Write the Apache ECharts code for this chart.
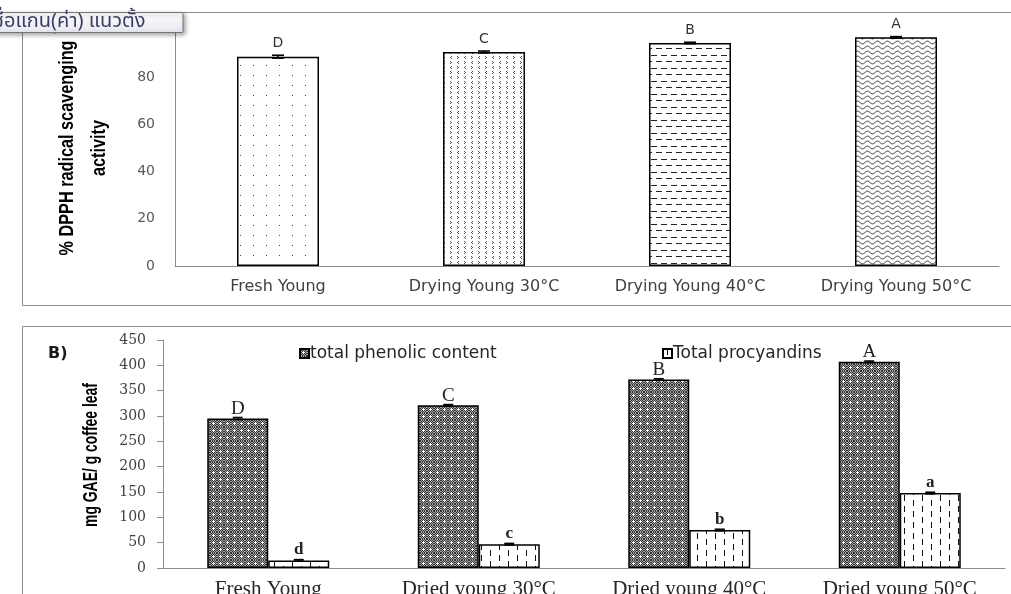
<!DOCTYPE html>
<html>
<head>
<meta charset="utf-8">
<title>Antioxidant activity of young coffee leaves</title>
<script src="https://cdn.jsdelivr.net/npm/echarts@6/dist/echarts.min.js"></script>
<style>
  html, body { margin: 0; padding: 0; background: #fff; }
  #chart { width: 1011px; height: 594px; }
</style>
</head>
<body>
<div id="chart"></div>
<script>
// ---- Panel A: DPPH radical scavenging ----
const dpphCategories = ['Fresh Young', 'Drying Young 30°C', 'Drying Young 40°C', 'Drying Young 50°C'];
const dpphValues = [88.7, 90.7, 94.5, 96.9];
const dpphErrors = [0.6, 0.4, 0.3, 0.3];
const dpphLetters = ['D', 'C', 'B', 'A'];

// ---- Panel B: phenolics and procyanidins ----
const leafCategories = ['Fresh Young', 'Dried young 30°C', 'Dried young 40°C', 'Dried young 50°C'];
const phenolicValues = [295, 321, 372, 407];
const phenolicErrors = [2, 1.5, 1.5, 1.5];
const phenolicLetters = ['D', 'C', 'B', 'A'];
const procyanidinValues = [15, 47, 75, 148];
const procyanidinErrors = [1.5, 1.5, 1.5, 1.5];
const procyanidinLetters = ['d', 'c', 'b', 'a'];

const seriesNames = ['total phenolic content', 'Total procyandins'];

// ---- fill patterns (small canvas tiles) ----
function tile(w, h, draw) {
  const c = document.createElement('canvas');
  c.width = w; c.height = h;
  const ctx = c.getContext('2d');
  ctx.fillStyle = '#fff';
  ctx.fillRect(0, 0, w, h);
  draw(ctx);
  return c;
}
function px(ctx, pts, color) {
  ctx.fillStyle = color;
  pts.forEach(p => ctx.fillRect(p[0], p[1], 1, 1));
}
const dotTile = tile(13, 10, ctx => px(ctx, [[6, 5]], '#444'));
const chevronTile = tile(14, 10, ctx => {
  // > <   on the first row, < >   on the second
  px(ctx, [[2, 1], [3, 2], [2, 3], [10, 1], [9, 2], [10, 3]], '#555');
  px(ctx, [[3, 6], [2, 7], [3, 8], [9, 6], [10, 7], [9, 8]], '#555');
});
const dashTile = tile(10, 13, ctx => {
  ctx.fillStyle = '#222';
  ctx.fillRect(1, 3, 6, 1);
  ctx.fillRect(6, 9, 4, 1);
  ctx.fillRect(0, 9, 2, 1);
});
const waveTile = tile(10, 5, ctx => {
  ctx.strokeStyle = '#333';
  ctx.lineWidth = 1;
  ctx.beginPath();
  for (let x = 0; x <= 10; x += 0.5) {
    const y = 2.5 + 1.4 * Math.sin(2 * Math.PI * x / 10);
    if (x === 0) ctx.moveTo(x, y); else ctx.lineTo(x, y);
  }
  ctx.stroke();
});
const phenolicTile = tile(7, 7, ctx => {
  for (let y = 0; y < 7; y++) {
    for (let x = 0; x < 7; x++) {
      ctx.fillStyle = (x + y) % 2 === 0 ? '#333333' : '#a6a6a6';
      ctx.fillRect(x, y, 1, 1);
    }
  }
  ctx.fillStyle = '#fff';
  ctx.fillRect(2, 3, 3, 1);
  ctx.fillRect(3, 2, 1, 3);
});
const procyanidinTile = tile(18, 11, ctx => {
  ctx.fillStyle = '#111';
  ctx.fillRect(4, 0, 1, 6);
  ctx.fillRect(13, 5, 1, 6);
});
const pat = t => ({ image: t, repeat: 'repeat' });
const dpphPatterns = [dotTile, chevronTile, dashTile, waveTile];

// horizontal squeeze so a title fits a given length
function squeeze(text, font, target) {
  const ctx = document.createElement('canvas').getContext('2d');
  ctx.font = font;
  const w = ctx.measureText(text).width;
  return w > 0 ? target / w : 1;
}

// error bars drawn with the axes' own coordinate mapping
function errorBars(axisIndex, values, errors, offset, capHalf) {
  return {
    type: 'custom',
    xAxisIndex: axisIndex,
    yAxisIndex: axisIndex,
    silent: true,
    z: 5,
    data: values.map((v, i) => [i, v, errors[i]]),
    encode: { x: 0, y: 1 },
    renderItem: (params, api) => {
      const i = api.value(0), v = api.value(1), e = api.value(2);
      const hi = api.coord([i, v + e]);
      const lo = api.coord([i, v - e]);
      const x = hi[0] + offset;
      const st = { stroke: '#000', lineWidth: 1.6 };
      return {
        type: 'group',
        children: [
          { type: 'line', shape: { x1: x, y1: hi[1], x2: x, y2: lo[1] }, style: st },
          { type: 'line', shape: { x1: x - capHalf, y1: hi[1], x2: x + capHalf, y2: hi[1] }, style: st },
          { type: 'line', shape: { x1: x - capHalf, y1: lo[1], x2: x + capHalf, y2: lo[1] }, style: st }
        ]
      };
    }
  };
}

const axisGray = '#8c8c8c';
const sansFont = '"DejaVu Sans", Verdana, sans-serif';
const serifFont = '"Liberation Serif", "Times New Roman", serif';
const boldTitleFont = '"Liberation Sans", Arial, sans-serif';
const BAR_B = 61;

const titleA = '% DPPH radical scavenging\nactivity';
const titleB = 'mg GAE/ g coffee leaf';
const scaleA = squeeze('% DPPH radical scavenging', 'bold 21px "Liberation Sans"', 215);
const scaleB = squeeze(titleB, 'bold 20px "Liberation Sans"', 144);

const chart = echarts.init(document.getElementById('chart'), null, { renderer: 'canvas' });

chart.setOption({
  animation: false,
  backgroundColor: '#ffffff',
  grid: [
    { left: 175, right: 12, top: 30, height: 236, outerBoundsMode: 'none' },
    { left: 163, right: 6, top: 340, height: 228, outerBoundsMode: 'none' }
  ],
  xAxis: [
    {
      gridIndex: 0, type: 'category', data: dpphCategories,
      axisLine: { lineStyle: { color: axisGray, width: 1 } },
      axisTick: { show: false },
      axisLabel: { margin: 13, fontFamily: sansFont, fontSize: 16, color: '#404040' }
    },
    {
      gridIndex: 1, type: 'category', data: leafCategories,
      axisLine: { lineStyle: { color: axisGray, width: 1 } },
      axisTick: { show: false },
      axisLabel: { margin: 11, fontFamily: serifFont, fontSize: 21, color: '#262626' }
    }
  ],
  yAxis: [
    {
      gridIndex: 0, type: 'value', min: 0, max: 100, interval: 20,
      axisLine: { show: true, lineStyle: { color: axisGray, width: 1 } },
      axisTick: { show: false },
      splitLine: { show: false },
      axisLabel: { margin: 20, fontFamily: sansFont, fontSize: 14, color: '#595959', showMaxLabel: false }
    },
    {
      gridIndex: 1, type: 'value', min: 0, max: 450, interval: 50,
      axisLine: { show: true, lineStyle: { color: axisGray, width: 1 } },
      axisTick: { show: true, length: 6, lineStyle: { color: axisGray } },
      splitLine: { show: false },
      axisLabel: { margin: 17, fontFamily: '"DejaVu Serif", serif', fontSize: 14, color: '#404040' }
    }
  ],
  legend: [
    {
      data: [seriesNames[0]], left: 294, top: 340, itemWidth: 9, itemHeight: 9,
      icon: 'rect', selectedMode: false,
      textStyle: { fontFamily: sansFont, fontSize: 17, color: '#262626', padding: [0, 0, 0, -4] }
    },
    {
      data: [seriesNames[1]], left: 657, top: 340, itemWidth: 9, itemHeight: 9,
      icon: 'rect', selectedMode: false,
      textStyle: { fontFamily: sansFont, fontSize: 17, color: '#262626', padding: [0, 0, 0, -4] }
    }
  ],
  series: [
    {
      name: 'DPPH', type: 'bar', xAxisIndex: 0, yAxisIndex: 0, barWidth: 82,
      data: dpphValues.map((v, i) => ({ value: v, itemStyle: { color: pat(dpphPatterns[i]) } })),
      itemStyle: { borderColor: '#000', borderWidth: 1.5 },
      label: {
        show: true, position: 'top', distance: 6,
        formatter: p => dpphLetters[p.dataIndex],
        fontFamily: sansFont, fontSize: 14, color: '#333'
      }
    },
    errorBars(0, dpphValues, dpphErrors, 0, 6),
    {
      name: seriesNames[0], type: 'bar', xAxisIndex: 1, yAxisIndex: 1,
      barWidth: BAR_B, barGap: '0%',
      data: phenolicValues,
      itemStyle: { color: pat(phenolicTile), borderColor: '#000', borderWidth: 1.5 },
      label: {
        show: true, position: 'top', distance: 0,
        formatter: p => phenolicLetters[p.dataIndex],
        fontFamily: serifFont, fontSize: 19, color: '#222'
      }
    },
    {
      name: seriesNames[1], type: 'bar', xAxisIndex: 1, yAxisIndex: 1,
      barWidth: BAR_B, barGap: '0%',
      data: procyanidinValues,
      itemStyle: { color: pat(procyanidinTile), borderColor: '#000', borderWidth: 1.5 },
      label: {
        show: true, position: 'top', distance: 2,
        formatter: p => procyanidinLetters[p.dataIndex],
        fontFamily: serifFont, fontSize: 17, fontWeight: 'bold', color: '#222'
      }
    },
    errorBars(1, phenolicValues, phenolicErrors, -BAR_B / 2, 5),
    errorBars(1, procyanidinValues, procyanidinErrors, BAR_B / 2, 5)
  ],
  graphic: [
    // panel frames
    { type: 'rect', silent: true, z: 0, shape: { x: 22.5, y: 12.5, width: 1100, height: 293 },
      style: { fill: 'none', stroke: '#8c8c8c', lineWidth: 1 } },
    { type: 'rect', silent: true, z: 0, shape: { x: 22.5, y: 326.5, width: 1100, height: 400 },
      style: { fill: 'none', stroke: '#8c8c8c', lineWidth: 1 } },
    // panel tags
    { type: 'text', silent: true, x: 40, y: 19,
      style: { text: 'A)', fontFamily: sansFont, fontWeight: 'bold', fontSize: 16, fill: '#1a1a1a', verticalAlign: 'top' } },
    { type: 'text', silent: true, x: 48, y: 346,
      style: { text: 'B)', fontFamily: sansFont, fontWeight: 'bold', fontSize: 16, fill: '#1a1a1a', verticalAlign: 'top' } },
    // axis titles
    { type: 'text', silent: true, x: 83, y: 148, rotation: Math.PI / 2, scaleX: scaleA,
      style: { text: titleA, align: 'center', verticalAlign: 'middle',
               fontFamily: boldTitleFont, fontWeight: 'bold', fontSize: 21, lineHeight: 32, fill: '#000' } },
    { type: 'text', silent: true, x: 91, y: 455, rotation: Math.PI / 2, scaleX: scaleB,
      style: { text: titleB, align: 'center', verticalAlign: 'middle',
               fontFamily: boldTitleFont, fontWeight: 'bold', fontSize: 20, fill: '#000' } },
    // hover hint box over the top-left corner
    { type: 'group', z: 100, children: [
      { type: 'rect', z: 100, silent: true, shape: { x: -6, y: 12.5, width: 189, height: 20, r: 1 },
        style: { fill: { type: 'linear', x: 0, y: 0, x2: 0, y2: 1,
                         colorStops: [{ offset: 0, color: '#ffffff' }, { offset: 1, color: '#e6e7ef' }] },
                 stroke: '#767676', lineWidth: 1,
                 shadowBlur: 4, shadowOffsetX: 2, shadowOffsetY: 2, shadowColor: 'rgba(0,0,0,0.35)' } },
      { type: 'text', z: 101, silent: true, x: -7, y: 23,
        style: { text: 'ชื่อแกน(ค่า) แนวตั้ง', verticalAlign: 'middle',
                 fontFamily: '"Noto Sans Thai", "Noto Sans", "DejaVu Sans", sans-serif', fontSize: 20, fill: '#3d3d66' } }
    ] }
  ]
});
</script>
</body>
</html>
